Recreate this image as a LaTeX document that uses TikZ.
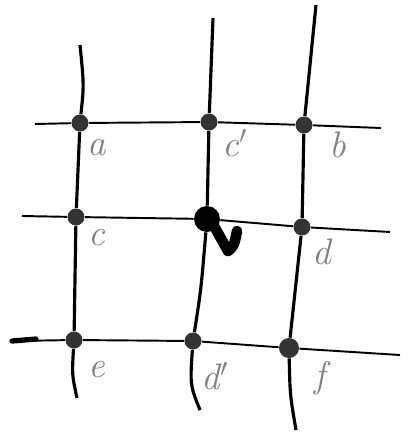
\documentclass[tikz,border=0pt]{standalone}
\usetikzlibrary{positioning}
\begin{document}
\begin{tikzpicture}[
  x=0.02cm, y=-0.02cm,
  dot/.style={circle, fill=black!80, inner sep=0pt, minimum size=0.34cm},
  bigdot/.style={circle, fill=black, inner sep=0pt, minimum size=0.52cm},
  lbl/.style={text=black!50, font=\fontsize{21}{23}\selectfont\itshape},
  hline/.style={line width=1.1pt},
  vline/.style={line width=1.8pt}
]
  \useasboundingbox (0,0) rectangle (414,434);
  % grid points
  \node[dot] (a) at (80,123) {};
  \node[dot] (cp) at (209,122) {};
  \node[dot] (b) at (304,125) {};
  \node[dot] (c) at (76,217) {};
  \node[bigdot] (m) at (207,219) {};
  \node[dot] (d) at (302,227) {};
  \node[dot] (e) at (74,340) {};
  \node[dot] (dp) at (193,341) {};
  \node[dot, minimum size=0.4cm] (f) at (289,348) {};
  % free ends
  \coordinate (h1l) at (35,124);  \coordinate (h1r) at (381,128);
  \coordinate (h2l) at (22,216);  \coordinate (h2r) at (390,232);
  \coordinate (h3l) at (12,341);  \coordinate (h3r) at (400,355);
  \coordinate (v1t) at (80,45);   \coordinate (v1b) at (77,398);
  \coordinate (v2t) at (213,18);  \coordinate (v2b) at (200,410);
  \coordinate (v3t) at (316,5);   \coordinate (v3b) at (296,430);
  % horizontal lines
  \draw[hline] (h1l) -- (a) -- (cp) -- (b) -- (h1r);
  \draw[hline] (h2l) -- (c) -- (m) -- (d) -- (h2r);
  \draw[hline] (h3l) -- (e) -- (dp) -- (f) -- (h3r);
  \draw[line width=3pt, line cap=round] (h3l) -- ++(24,-2);
  % vertical lines
  \draw[vline] (v1t) .. controls (84,85) .. (a) -- (c) -- (e) .. controls (72,375) .. (v1b);
  \draw[vline] (v2t) -- (cp) -- (m) .. controls (201,290) .. (dp) .. controls (190,385) .. (v2b);
  \draw[vline] (v3t) -- (b) -- (d) -- (f) .. controls (290,395) .. (v3b);
  % hook on the middle point
  \draw[line width=6pt, line cap=round, line join=round]
    (214,226) -- (228,251) .. controls (234,246) .. (237,231);
  % labels
  \node[lbl] (la) at (97,148) {a};
  \node[lbl] (lcp) at (235,143) {c$'$};
  \node[lbl] (lb) at (338,145) {b};
  \node[lbl] (lc) at (97,238) {c};
  \node[lbl] (ld) at (322,252) {d};
  \node[lbl] (le) at (97,370) {e};
  \node[lbl] (ldp) at (215,376) {d$'$};
  \node[lbl] (lf) at (320,378) {f};
\end{tikzpicture}
\end{document}
